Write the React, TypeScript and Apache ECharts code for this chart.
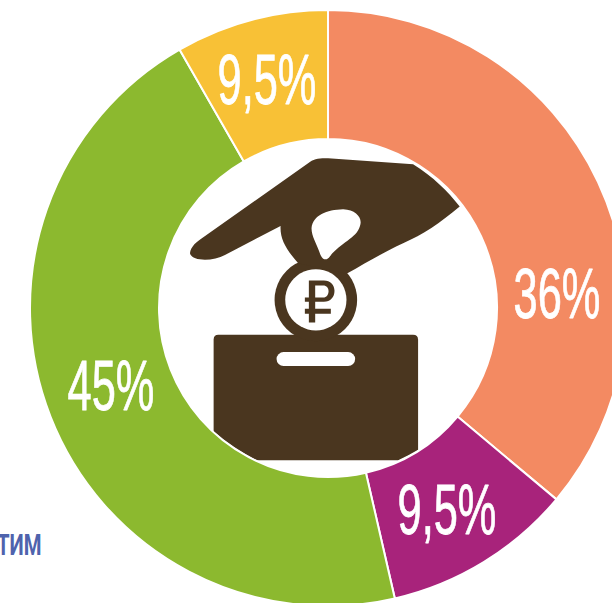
import React, { useEffect, useRef } from "react";
import * as echarts from "echarts";

const sliceNames = ["Оранжевый", "Пурпурный", "Зелёный", "Жёлтый"];
const sliceShares = [36.1, 10.3, 45.3, 8.3];
const sliceLabels = ["36%", "9,5%", "45%", "9,5%"];
const sliceColors = ["#f38a62", "#a8237b", "#8cb92f", "#f8c136"];
const labelCentres = [[557, 293], [447, 509], [111, 385], [267, 79]];
const captionText = "ТИМ";
const BROWN = "#4a361f";

const handPath =
  "M60,340 C62,320 80,305 100,292 L420,66 C435,56 450,55 475,55 L730,73 C790,110 835,155 870,200 C810,250 760,285 700,310 C640,338 590,368 530,402 L385,370 C350,330 330,300 332,258 L165,345 C130,365 65,365 60,340 Z";
const holePath =
  "M425,265 C430,225 470,210 520,208 C560,210 580,235 570,260 C560,295 510,310 480,350 C472,362 460,362 452,345 C440,310 425,290 425,265 Z";
const boxPath =
  "M145,585 L730,585 Q745,585 745,600 L745,930 Q720,945 685,962 L262,962 Q190,925 131,875 L131,600 Q131,585 145,585 Z";
const rublePath =
  "M417,422 L462,422 C482,422 494,436 494,453 C494,472 482,486 462,486 L436,486 L436,507 L483,507 L483,522 L436,522 L436,548 L417,548 L417,522 L405,522 L405,507 L417,507 L417,486 L405,486 L405,473 L417,473 Z";
const rubleBowlPath =
  "M436,437 L460,437 C470,437 476,444 476,454 C476,464 470,473 460,473 L436,473 Z";

echarts.graphic.registerShape("hand", echarts.graphic.extendPath(handPath, {}));
echarts.graphic.registerShape("hole", echarts.graphic.extendPath(holePath, {}));
echarts.graphic.registerShape("box", echarts.graphic.extendPath(boxPath, {}));
echarts.graphic.registerShape("ruble", echarts.graphic.extendPath(rublePath, {}));
echarts.graphic.registerShape("bowl", echarts.graphic.extendPath(rubleBowlPath, {}));

export default function App() {
  const ref = useRef<HTMLDivElement>(null);
  useEffect(() => {
    document.body.style.margin = "0";
    const chart = echarts.init(ref.current!, null, { renderer: "svg" });
    chart.setOption({
      animation: false,
      backgroundColor: "#ffffff",
      series: [
        {
          type: "pie",
          center: [328, 308],
          radius: [169, 298],
          startAngle: 90,
          clockwise: true,
          silent: true,
          label: { show: false },
          labelLine: { show: false },
          itemStyle: { borderColor: "#ffffff", borderWidth: 2 },
          data: sliceShares.map((value, i) => ({
            name: sliceNames[i],
            value,
            itemStyle: { color: sliceColors[i] },
          })),
        },
      ],
      graphic: [
        ...sliceLabels.map((text, i) => ({
          type: "text",
          x: labelCentres[i][0],
          y: labelCentres[i][1],
          scaleX: 0.62,
          z: 20,
          style: {
            text,
            fill: "#ffffff",
            stroke: "#ffffff",
            lineWidth: 0.8,
            font: '400 70px "Liberation Sans Narrow", sans-serif',
            textAlign: "center",
            textVerticalAlign: "middle",
          },
        })),
        {
          type: "text",
          x: -3,
          y: 545,
          scaleX: 0.7,
          z: 20,
          style: {
            text: captionText,
            fill: "#4f63ad",
            font: '700 29px "Roboto", sans-serif',
            textAlign: "left",
            textVerticalAlign: "middle",
          },
        },
        {
          type: "group",
          x: 170,
          y: 140,
          scaleX: 1 / 3,
          scaleY: 1 / 3,
          z: 10,
          children: [
            { type: "box", style: { fill: BROWN } },
            { type: "rect", shape: { x: 320, y: 637, width: 236, height: 42, r: 21 }, style: { fill: "#fff" } },
            { type: "circle", shape: { cx: 438, cy: 480, r: 124 }, style: { fill: BROWN } },
            { type: "hand", style: { fill: BROWN } },
            { type: "hole", style: { fill: "#fff" } },
            { type: "circle", shape: { cx: 438, cy: 480, r: 92 }, style: { fill: "#fff" } },
            { type: "ruble", style: { fill: BROWN } },
            { type: "bowl", style: { fill: "#fff" } },
          ],
        },
      ],
    });
    return () => chart.dispose();
  }, []);
  return <div ref={ref} style={{ width: 612, height: 603, overflow: "hidden" }} />;
}
